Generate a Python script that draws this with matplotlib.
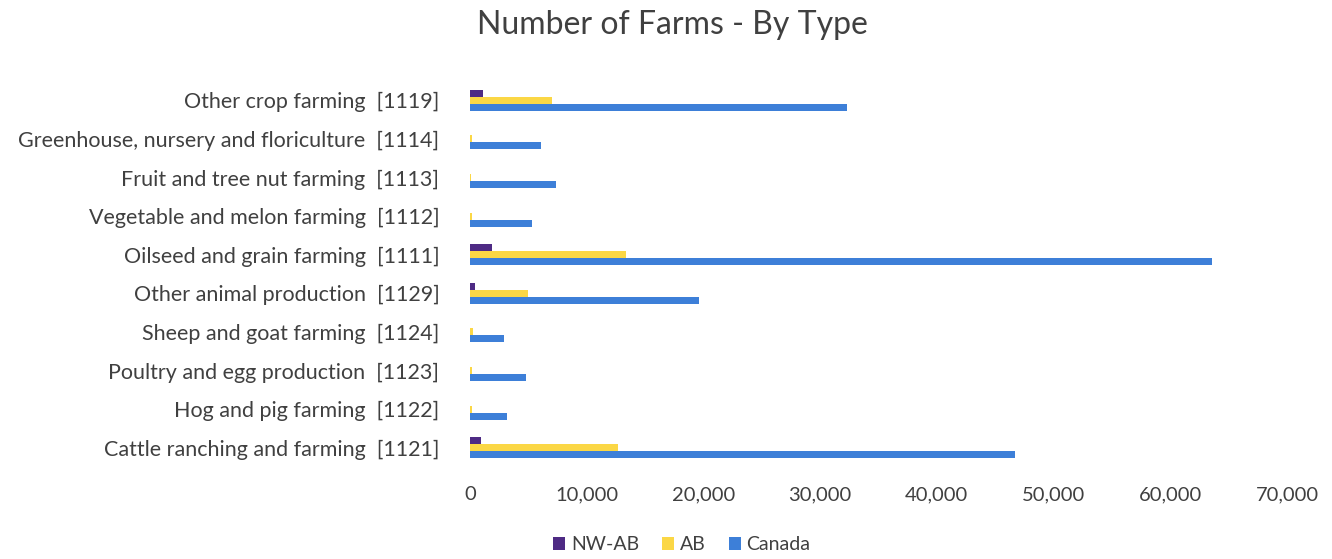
import numpy as np
import matplotlib.pyplot as plt

plt.rcParams['font.family'] = ['Lato', 'DejaVu Sans']

# categories from bottom to top
categories = [
    'Cattle ranching and farming  [1121]',
    'Hog and pig farming  [1122]',
    'Poultry and egg production  [1123]',
    'Sheep and goat farming  [1124]',
    'Other animal production  [1129]',
    'Oilseed and grain farming  [1111]',
    'Vegetable and melon farming  [1112]',
    'Fruit and tree nut farming  [1113]',
    'Greenhouse, nursery and floriculture  [1114]',
    'Other crop farming  [1119]',
]
nw_ab = [900, 0, 0, 0, 400, 1900, 0, 0, 0, 1100]
ab = [12700, 150, 200, 250, 5000, 13400, 150, 100, 200, 7000]
canada = [46700, 3200, 4800, 2900, 19600, 63600, 5300, 7400, 6100, 32300]

xticks = [0, 10000, 20000, 30000, 40000, 50000, 60000, 70000]

fig = plt.figure(figsize=(13.32, 5.59), dpi=100)
ax = fig.add_axes([470 / 1332, 1 - 467 / 559, (1287 - 470) / 1332, (467 - 81) / 559])

y = np.arange(len(categories))
h = 0.18
ax.barh(y + h, nw_ab, height=h, color='#4e2a84', label='NW-AB')
ax.barh(y, ab, height=h, color='#fbd745', label='AB')
ax.barh(y - h, canada, height=h, color='#3d7fd8', label='Canada')

ax.set_ylim(-0.5, len(categories) - 0.5)
ax.set_xlim(0, 70000)
ax.set_yticks(y)
ax.set_yticklabels(categories, fontsize=15.5, color='#404040')
ax.set_xticks(xticks)
ax.set_xticklabels([f'{v:,}' for v in xticks], fontsize=14.5, color='#404040')
ax.tick_params(axis='both', length=0)
ax.tick_params(axis='x', pad=14)
ax.tick_params(axis='y', pad=22)
for s in ax.spines.values():
    s.set_visible(False)

fig.suptitle('Number of Farms - By Type', x=672 / 1332, y=1 - 25 / 559, va='center',
             fontsize=23, color='#404040')

ax.legend(loc='center', bbox_to_anchor=(682 / 1332, 1 - 545 / 559), bbox_transform=fig.transFigure,
          ncol=3, frameon=False, fontsize=14, handlelength=0.6, handleheight=0.6,
          handletextpad=0.3, columnspacing=1.2, labelcolor='#404040')

fig.savefig('out.png', dpi=100)
